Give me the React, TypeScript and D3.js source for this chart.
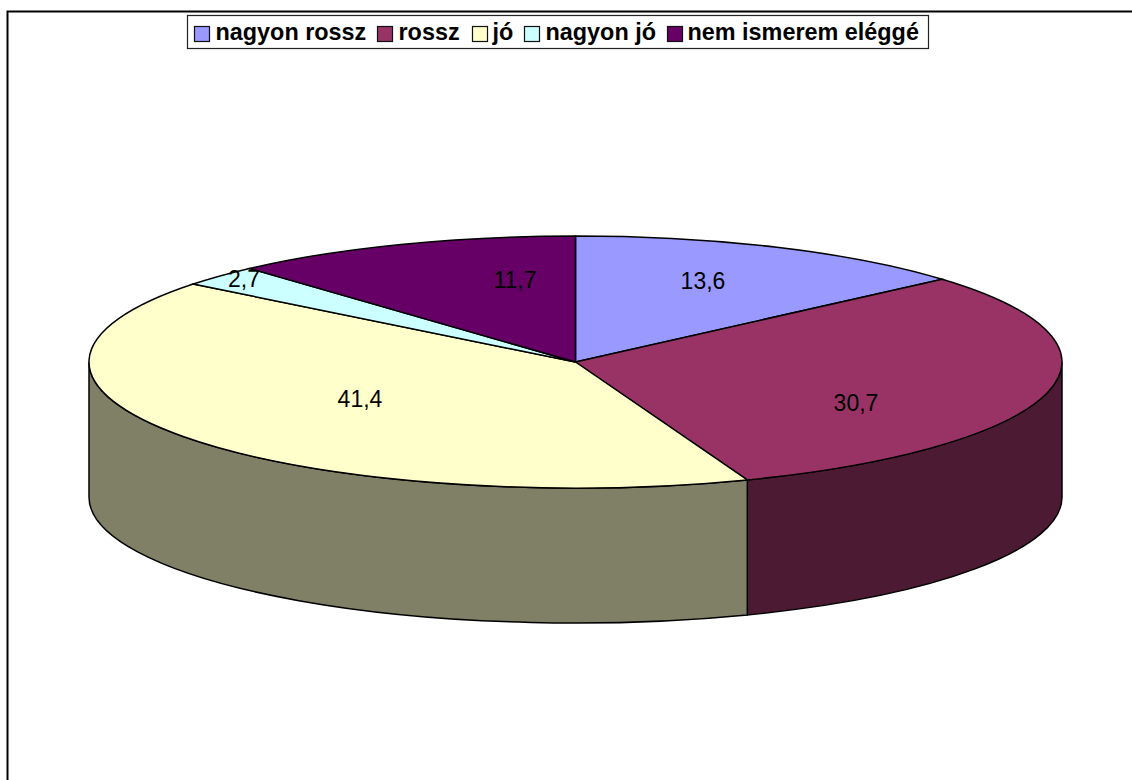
import React from "react";
import * as d3 from "d3";

const categories = ["nagyon rossz", "rossz", "jó", "nagyon jó", "nem ismerem eléggé"];
const values = [13.6, 30.7, 41.4, 2.7, 11.7];
const labels = ["13,6", "30,7", "41,4", "2,7", "11,7"];
const topColors = ["#9999FF", "#993366", "#FFFFCC", "#CCFFFF", "#660066"];
const sideColors = ["#4D4D80", "#4D1A33", "#808066", "#668080", "#330033"];
const labelPositions = [[703, 283], [856, 405], [360, 401], [244, 281], [515, 282]];
const legendX = [194, 377, 472, 524, 667];
const legendTextX = [215.5, 398.5, 492.5, 545.5, 687.5];

const cx = 575.5, cy = 362, rx = 486.5, ry = 126, depth = 135;
const FONT = "'Liberation Sans', Arial, sans-serif";

export default function App() {
  const arcs = d3.pie<number>().sort(null).value((d) => d)(values);
  const px = (a: number) => cx + rx * Math.sin(a);
  const py = (a: number) => cy - ry * Math.cos(a);
  const topPath = (a0: number, a1: number) => {
    const large = a1 - a0 > Math.PI ? 1 : 0;
    return `M${cx},${cy}L${px(a0)},${py(a0)}A${rx},${ry} 0 ${large} 1 ${px(a1)},${py(a1)}Z`;
  };
  const sidePath = (a0: number, a1: number) => {
    const s = Math.max(a0, Math.PI / 2), e = Math.min(a1, (3 * Math.PI) / 2);
    if (e <= s) return null;
    return `M${px(s)},${py(s)}A${rx},${ry} 0 0 1 ${px(e)},${py(e)}L${px(e)},${py(e) + depth}A${rx},${ry} 0 0 0 ${px(s)},${py(s) + depth}Z`;
  };
  return (
    <svg width={1132} height={780} style={{ position: "absolute", left: 0, top: 0, background: "#fff" }}>
      <path d="M7.5,780V11.5H1132" fill="none" stroke="#000" strokeWidth={2} />
      {arcs.map((a, i) => {
        const d = sidePath(a.startAngle, a.endAngle);
        return d ? <path key={i} d={d} fill={sideColors[i]} stroke="#000" strokeWidth={1.5} /> : null;
      })}
      {arcs.map((a, i) => (
        <path key={i} d={topPath(a.startAngle, a.endAngle)} fill={topColors[i]} stroke="#000" strokeWidth={1.5} />
      ))}
      {labels.map((t, i) => (
        <text key={i} x={labelPositions[i][0]} y={labelPositions[i][1]} textAnchor="middle" dominantBaseline="middle" fontFamily={FONT} fontSize={23} fill="#000">{t}</text>
      ))}
      <rect x={187.5} y={15.5} width={741} height={33} fill="#fff" stroke="#222" strokeWidth={1.2} />
      {categories.map((c, i) => (
        <g key={i}>
          <rect x={legendX[i] + 0.5} y={26.5} width={15} height={15} fill={topColors[i]} stroke="#111" strokeWidth={1.2} />
          <text x={legendTextX[i]} y={40} fontFamily={FONT} fontWeight="bold" fontSize={23.4} fill="#000">{c}</text>
        </g>
      ))}
    </svg>
  );
}
